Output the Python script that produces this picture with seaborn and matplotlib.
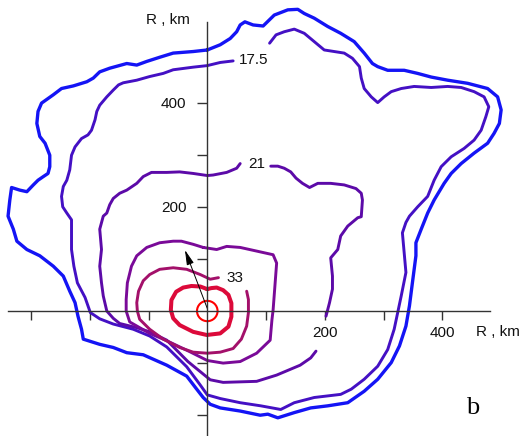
import matplotlib
matplotlib.use("Agg")
import matplotlib.pyplot as plt
import seaborn as sns
from matplotlib.patches import Ellipse

sns.set_style("white")
plt.rcParams['font.family'] = ['Liberation Sans', 'DejaVu Sans']

# ---- contour data (km) ----
blue_outer = [(0,501),(22,511),(39,523),(50,536),(56,549),(64,555),(78,549),(95,547),(114,568),(137,578),
    (154,579),(165,571),(182,562),(205,546),(227,533),(250,517),(267,495),(281,475),(290,469),(307,462),
    (335,462),(358,456),(381,449),(409,443),(443,437),(477,427),(494,411),(500,386),(497,360),(488,341),
    (477,322),(454,303),(432,283),(415,264),(403,245),(386,213),(375,188),(364,157),(355,131),(355,106),
    (349,54),(344,10),(338,-29),(327,-67),(313,-99),(290,-131),(267,-154),(239,-176),(205,-182),(176,-186),
    (148,-195),(120,-205),(103,-198),(90,-200),(56,-192),(22,-186),(5,-179),(-7,-166),(-18,-150),(-35,-125),
    (-69,-104),(-109,-84),(-137,-80),(-160,-70),(-183,-64),(-211,-54),(-214,-35),(-220,-10),(-225,16),
    (-234,38),(-245,67),(-262,86),(-285,106),(-307,118),(-324,134),(-330,157),(-339,182),(-336,213),
    (-333,237),(-319,232),(-307,229),(-296,242),(-288,251),(-279,258),(-271,264),(-268,277),(-268,299),
    (-276,322),(-285,335),(-290,360),(-288,383),(-282,399),(-262,415),(-248,427),(-228,432),(-205,440),
    (-194,447),(-183,459),(-166,466),(-137,475),(-120,472),(-103,479),(-81,487),(-58,495),(-24,498),(0,501)]

c175 = [(44,480),(22,477),(0,471),(-24,468),(-58,463),(-75,456),(-98,450),(-120,443),(-143,438),(-151,434),
    (-160,424),(-171,411),(-183,395),(-188,383),(-191,367),(-197,347),(-203,338),(-214,331),(-225,315),
    (-231,299),(-234,271),(-239,251),(-245,239),(-248,220),(-246,200),(-239,188),(-231,175),(-231,157),
    (-231,118),(-227,86),(-221,54),(-208,26),(-199,-3),(-183,-15),(-160,-25),(-126,-35),(-98,-48),(-69,-69),
    (-35,-107),(-12,-142),(0,-161),(22,-168),(56,-176),(91,-182),(125,-189),(148,-176),(182,-166),(227,-160),
    (245,-150),(267,-131),(290,-106),(307,-74),(318,-35),(324,-3),(330,29),(338,74),(335,112),(332,150),
    (338,170),(344,182),(358,200),(375,220),(386,251),(398,277),(415,296),(437,312),(454,328),(466,347),
    (474,373),(479,392),(471,411),(454,421),(432,429),(409,431),(381,429),(352,431),(330,427),(313,421),
    (301,411),(290,400),(279,411),(267,427),(262,447),(259,469),(247,485),(233,495),(216,498),(199,501),
    (182,517),(165,533),(148,541),(131,536),(117,530),(106,514)]

c21_a = [(56,283),(50,274),(33,266),(10,261),(0,260),(-24,264),(-47,267),(-69,266),(-95,266),(-109,258),
    (-120,245),(-137,232),(-149,226),(-160,216),(-166,204),(-171,188),(-177,182),(-183,157),(-180,118),
    (-183,86),(-180,54),(-177,29),(-171,0),(-160,-14),(-149,-24),(-120,-32),(-98,-40),(-69,-56),(-33,-97),
    (5,-132),(27,-137),(84,-135),(118,-123),(158,-104),(176,-90),(185,-77)]
c21_b = [(202,-10),(205,3),(208,16),(213,42),(213,67),(210,102),(222,118),(227,144),(239,163),(256,179),
    (262,181),(264,213),(262,226),(253,235),(233,242),(210,245),(188,245),(174,237),(162,245),(151,255),
    (142,267),(131,274),(120,278),(108,278)]

c_mid = [(-7,122),(16,118),(33,124),(56,122),(84,115),(112,108),(118,92),(115,47),(112,2),(110,-17),
    (107,-56),(84,-81),(56,-97),(27,-100),(0,-95),(-30,-78),(-69,-57),(-98,-43),(-132,-21),(-138,0),
    (-138,22),(-136,54),(-129,86),(-120,106),(-103,122),(-81,131),(-58,134),(-44,134),(-24,128),(-7,122)]

c33 = [(19,64),(5,61),(-12,70),(-35,80),(-58,83),(-81,80),(-98,70),(-109,58),(-117,38),(-120,16),(-119,0),
    (-115,-16),(-98,-35),(-75,-54),(-47,-70),(-24,-79),(0,-81),(22,-79),(44,-72),(58,-54),(67,-29),(70,-3),
    (70,22),(67,38)]

c_core = [(0,42),(-12,47),(-27,48),(-41,45),(-53,37),(-61,21),(-62,2),(-58,-14),(-47,-27),(-24,-40),
    (-1,-46),(22,-43),(36,-30),(41,-11),(41,15),(36,31),(27,40),(16,45),(7,44),(0,42)]

eye_size = (35, 39)          # width, height in km
arrow_tail = (0, 5)
arrow_head = (-38, 117)

contour_labels = ["17.5", "21", "33"]
contour_label_pos = [(78, 481), (84, 283), (47, 64)]

xticks = [-300, -200, -100, 100, 200, 300, 400]
xticklabels = ["", "", "", "", "200", "", "400"]
yticks = [-200, -100, 100, 200, 300, 400]
yticklabels = ["", "", "", "200", "", "400"]

# ---- figure ----
fig = plt.figure(figsize=(5.23, 4.36), dpi=100)
ax = fig.add_axes([0, 0, 1, 1])
ax.set_xlim(-352.7, 537.2)
ax.set_ylim(-239.9, 596.9)

def draw(pts, color, lw):
    xs = [p[0] for p in pts]
    ys = [p[1] for p in pts]
    sns.lineplot(x=xs, y=ys, sort=False, estimator=None, color=color, linewidth=lw, ax=ax)

draw(blue_outer, "#1414f5", 2.4)
draw(c175, "#4410c4", 2.1)
draw(c21_a, "#5c0aa8", 2.1)
draw(c21_b, "#5c0aa8", 2.1)
draw(c_mid, "#7a0a98", 2.1)
draw(c33, "#a3106a", 2.1)
draw(c_core, "#dc0a3a", 2.9)
ax.add_patch(Ellipse((0, 0), eye_size[0], eye_size[1], fill=False, edgecolor="#ff0000", lw=1.5, zorder=3))

ax.annotate("", xy=arrow_head, xytext=arrow_tail,
            arrowprops=dict(arrowstyle="-|>,head_length=0.9,head_width=0.22", color="black",
                            lw=0.7, shrinkA=0, shrinkB=0, mutation_scale=10), zorder=4)

for t, (x, y) in zip(contour_labels, contour_label_pos):
    ax.text(x, y, t, fontsize=11, ha="center", va="center", color="#111111")

# axes through origin
for s in ["top", "right"]:
    ax.spines[s].set_visible(False)
ax.spines["bottom"].set_position(("data", 0))
ax.spines["left"].set_position(("data", 0))
ax.spines["bottom"].set_bounds(-339, 481)
ax.spines["left"].set_bounds(-240, 555)
for s in ["bottom", "left"]:
    ax.spines[s].set_color("#333333")
    ax.spines[s].set_linewidth(1.0)
    ax.spines[s].set_zorder(5)

ax.set_xticks(xticks)
ax.set_xticklabels(xticklabels)
ax.set_yticks(yticks)
ax.set_yticklabels(yticklabels)
ax.tick_params(axis="x", bottom=True, direction="out", length=6.5, width=1, color="#333333",
               labelsize=11, pad=4, labelcolor="#111111")
ax.tick_params(axis="y", left=True, direction="out", length=7, width=1, color="#333333",
               labelsize=11, pad=8, labelcolor="#111111")

ax.text(494, -40, "R , km", fontsize=11, ha="center", va="center", color="#111111")
ax.text(-67, 558, "R , km", fontsize=11, ha="center", va="center", color="#111111")
ax.text(452, -186, "b", fontsize=19, ha="center", va="center", family="Liberation Serif", color="black")

fig.savefig("out.png", dpi=100)
